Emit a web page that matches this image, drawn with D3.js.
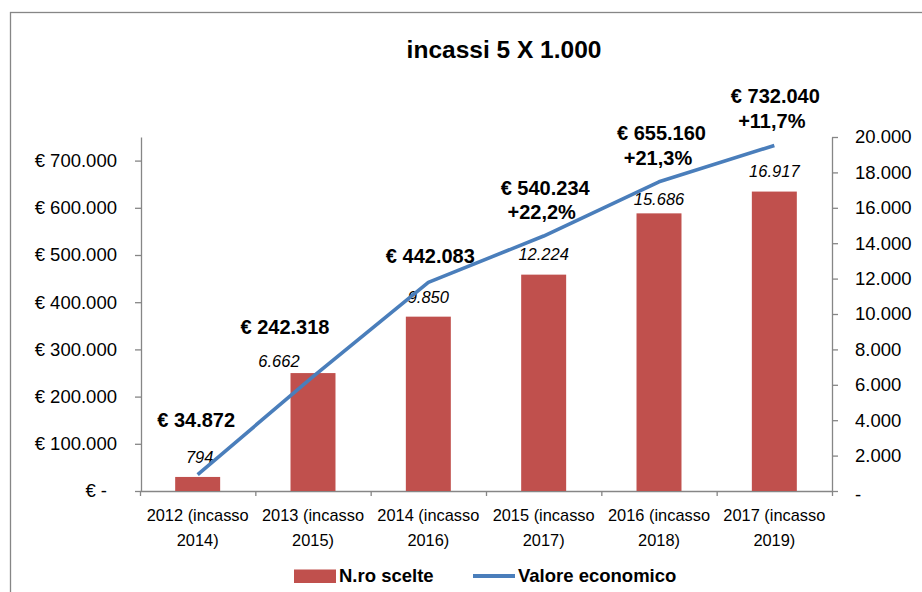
<!DOCTYPE html>
<html>
<head>
<meta charset="utf-8">
<script src="https://cdn.jsdelivr.net/npm/d3@7"></script>
<style>
  html, body { margin: 0; padding: 0; background: #fff; }
  svg { display: block; font-family: "Liberation Sans", Arial, sans-serif; }
  .axis path, .axis line { stroke: #868686; stroke-width: 1.3; }
  .axis text { fill: #000; font-size: 18.5px; }
  .cat-label { font-size: 16.4px; fill: #000; }
  .bar-label { font-size: 16.5px; font-style: italic; fill: #000; }
  .line-label { font-size: 20px; font-weight: bold; fill: #000; }
  .legend-text { font-size: 18.5px; font-weight: bold; fill: #000; }
</style>
</head>
<body>
<div id="chart"></div>
<script>
// dati
const categories = [
  "2012 (incasso 2014)", "2013 (incasso 2015)", "2014 (incasso 2016)",
  "2015 (incasso 2017)", "2016 (incasso 2018)", "2017 (incasso 2019)"
];
const nroScelte = [794, 6662, 9850, 12224, 15686, 16917];
const valoreEconomico = [34872, 242318, 442083, 540234, 655160, 732040];
const growthLabels = ["", "", "", "+22,2%", "+21,3%", "+11,7%"];
const seriesNames = ["N.ro scelte", "Valore economico"];

// spostamenti manuali delle etichette (come nel file Excel)
const barLabelShift = [[2, -20], [-34, -12], [0, -19], [0, -20], [0, -14], [0, -20]];
const lineLabelShift = [[-1.5, -55], [-28, -50], [2, -26], [1.5, -48.5], [2.5, -48.5], [1, -49]];

const W = 922, H = 592;
const m = { top: 137, right: 90, bottom: 101, left: 141 };

const it = d3.formatLocale({ decimal: ",", thousands: ".", grouping: [3], currency: ["€ ", ""] });
const fmtInt = it.format(",d");

const svg = d3.select("#chart").append("svg")
  .attr("width", W)
  .attr("height", H);

// cornice
svg.append("rect")
  .attr("x", 10.5).attr("y", 12.5)
  .attr("width", 1000).attr("height", 1000)
  .attr("fill", "none")
  .attr("stroke", "#868686")
  .attr("stroke-width", 1.3);

svg.append("text")
  .attr("x", 504).attr("y", 57.5)
  .attr("text-anchor", "middle")
  .style("font-size", "24.5px")
  .style("font-weight", "bold")
  .text("incassi 5 X 1.000");

const x = d3.scaleBand()
  .domain(categories)
  .range([m.left - 1, W - m.right])
  .paddingInner(0.61)
  .paddingOuter(0.305);

const yLeft = d3.scaleLinear().domain([0, 750000]).range([H - m.bottom, m.top]);
const yRight = d3.scaleLinear().domain([0, 20000]).range([H - m.bottom, m.top]);

// asse sinistro (valore economico)
const gLeft = svg.append("g")
  .attr("class", "axis")
  .attr("transform", `translate(${m.left},0)`)
  .call(d3.axisLeft(yLeft)
    .tickValues(yLeft.ticks(8))
    .tickSize(6)
    .tickSizeOuter(0)
    .tickPadding(18)
    .tickFormat(d => d === 0 ? "€ -" : "€ " + fmtInt(d)));
gLeft.selectAll(".tick text").filter(d => d === 0).attr("dx", "-10");

// asse destro (numero scelte)
const gRight = svg.append("g")
  .attr("class", "axis")
  .attr("transform", `translate(${W - m.right},0)`)
  .call(d3.axisRight(yRight)
    .ticks(10)
    .tickSize(6)
    .tickSizeOuter(0)
    .tickPadding(17)
    .tickFormat(d => d === 0 ? "-" : fmtInt(d)));
gRight.selectAll(".tick text").filter(d => d === 0).attr("dy", "0.5em");

// asse categorie: tacche ai confini delle categorie
const xEdges = d3.scaleLinear()
  .domain([0, categories.length])
  .range(x.range());
svg.append("g")
  .attr("class", "axis")
  .attr("transform", `translate(0,${H - m.bottom})`)
  .call(d3.axisBottom(xEdges)
    .tickValues(d3.range(categories.length + 1))
    .tickSize(5)
    .tickSizeOuter(0)
    .tickFormat(""));

const catText = svg.append("g").selectAll("text")
  .data(categories)
  .join("text")
  .attr("class", "cat-label")
  .attr("text-anchor", "middle")
  .attr("transform", d => `translate(${x(d) + x.bandwidth() / 2},0)`);
catText.each(function (d) {
  const parts = d.split(/ (?=\S+$)/);
  const t = d3.select(this);
  parts.forEach((p, i) => {
    t.append("tspan").attr("x", 0).attr("y", 521 + i * 25).text(p);
  });
});

// barre
svg.append("g").selectAll("rect")
  .data(nroScelte)
  .join("rect")
  .attr("x", (d, i) => x(categories[i]))
  .attr("y", d => yRight(d))
  .attr("width", x.bandwidth())
  .attr("height", d => yRight(0) - yRight(d))
  .attr("fill", "#C0504D");

svg.append("g").selectAll("text")
  .data(nroScelte)
  .join("text")
  .attr("class", "bar-label")
  .attr("text-anchor", "middle")
  .attr("x", (d, i) => x(categories[i]) + x.bandwidth() / 2 + barLabelShift[i][0])
  .attr("y", (d, i) => yRight(d) + barLabelShift[i][1])
  .attr("dy", "0.35em")
  .text(d => fmtInt(d));

// linea
const cx = i => x(categories[i]) + x.bandwidth() / 2;
const line = d3.line()
  .x((d, i) => cx(i))
  .y(d => yLeft(d));

svg.append("path")
  .datum(valoreEconomico)
  .attr("d", line)
  .attr("fill", "none")
  .attr("stroke", "#4A7EBB")
  .attr("stroke-width", 3.6)
  .attr("stroke-linejoin", "round");

const lbl = svg.append("g").selectAll("text")
  .data(valoreEconomico)
  .join("text")
  .attr("class", "line-label")
  .attr("text-anchor", "middle");
lbl.each(function (d, i) {
  const t = d3.select(this);
  const px = cx(i) + lineLabelShift[i][0];
  const py = yLeft(d) + lineLabelShift[i][1];
  t.append("tspan").attr("x", px).attr("y", py).attr("dy", "0.35em").text("€ " + fmtInt(d));
  if (growthLabels[i]) {
    t.append("tspan").attr("x", px - 3.5).attr("y", py + 24.5).attr("dy", "0.35em").text(growthLabels[i]);
  }
});

// legenda
const leg = svg.append("g");
leg.append("rect")
  .attr("x", 294).attr("y", 569.5)
  .attr("width", 42).attr("height", 13.5)
  .attr("fill", "#C0504D");
leg.append("text")
  .attr("class", "legend-text")
  .attr("x", 339).attr("y", 576)
  .attr("dy", "0.35em")
  .text(seriesNames[0]);
leg.append("line")
  .attr("x1", 473).attr("x2", 515)
  .attr("y1", 576).attr("y2", 576)
  .attr("stroke", "#4A7EBB")
  .attr("stroke-width", 4);
leg.append("text")
  .attr("class", "legend-text")
  .attr("x", 518).attr("y", 576)
  .attr("dy", "0.35em")
  .text(seriesNames[1]);
</script>
</body>
</html>
